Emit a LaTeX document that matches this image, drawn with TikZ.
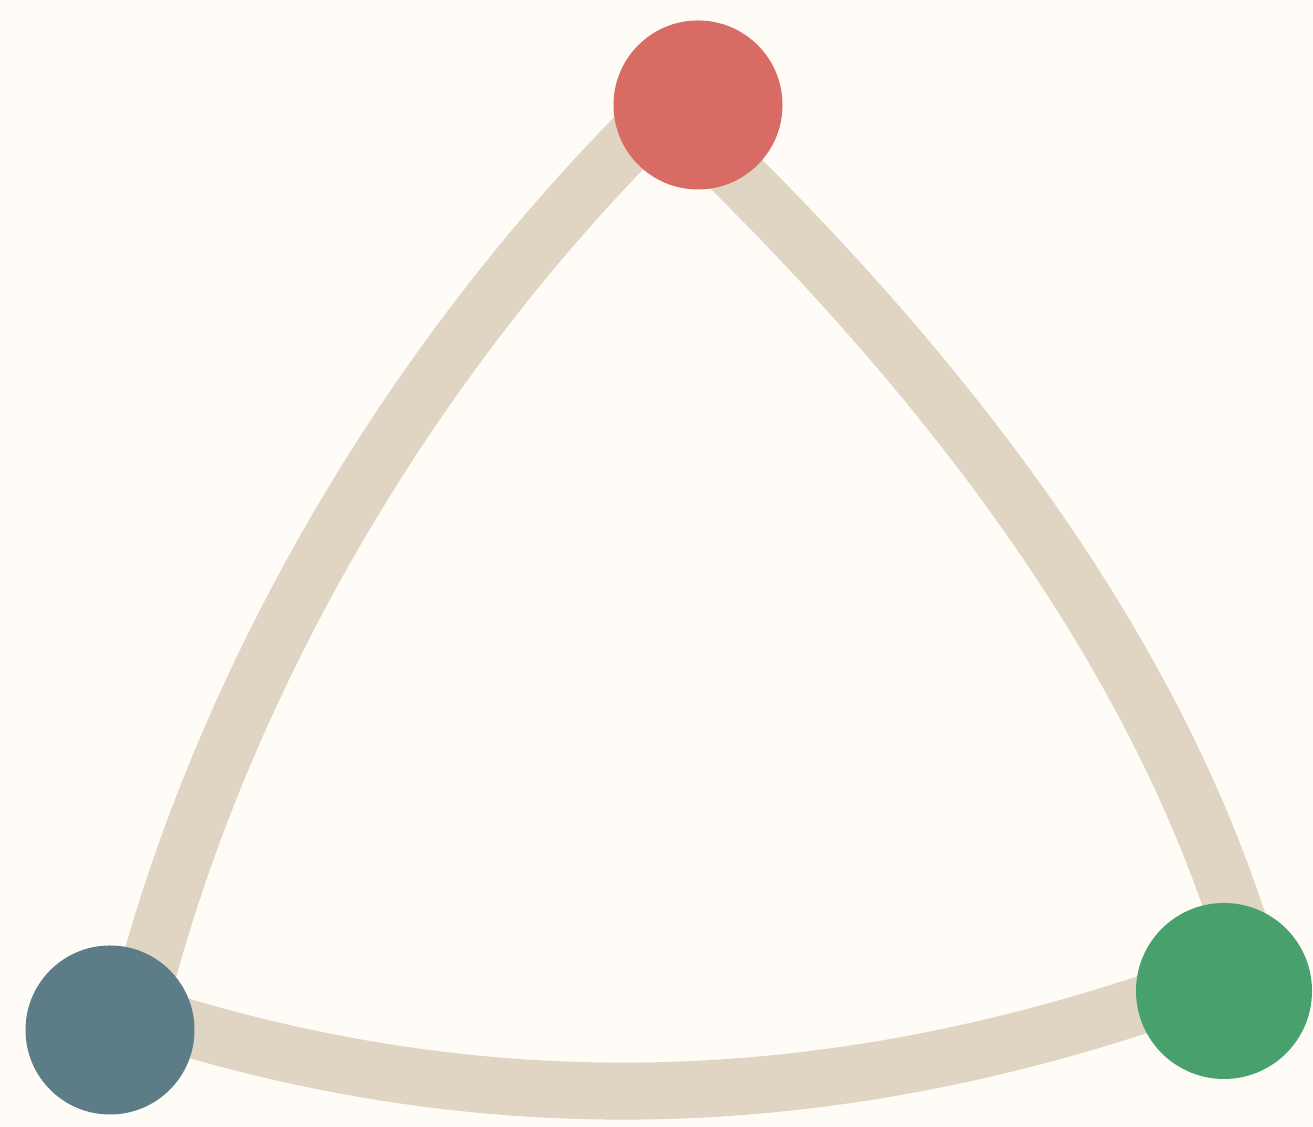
\documentclass[tikz,border=0pt]{standalone}
\usepackage{xcolor}
\definecolor{papercolor}{HTML}{FFFCF7}
\definecolor{linkcolor}{HTML}{E0D5C3}
\definecolor{redblob}{HTML}{D86B63}
\definecolor{blueblob}{HTML}{5C7D88}
\definecolor{greenblob}{HTML}{48A06D}
\usepackage{tikz}
\usetikzlibrary{positioning,calc}
\pgfdeclarelayer{linklayer}
\pgfsetlayers{linklayer,main}
\tikzset{
    blob/.style={
        circle,
        inner sep=0pt,
        outer sep=0pt,
        minimum size=1.69cm,
    },
    link/.style={
        draw=linkcolor,
        line width=0.57cm,
        line join=round,
    },
}

\begin{document}
\begin{tikzpicture}
    \useasboundingbox (0,0) rectangle (13.13,11.27);

    % Vertices
    \node[blob, fill=redblob] (top) at (6.98, 10.22) {};
    \node[blob, fill=blueblob] (left) at (1.10, 0.97) {};
    \node[blob, fill=greenblob, minimum size=1.76cm] (right) at (12.24, 1.36) {};

    % Paper and links (behind the vertices, ends run on straight under them)
    \begin{pgfonlayer}{linklayer}
        \fill[papercolor] (0,0) rectangle (13.13,11.27);
        \draw[link] ($(top.210)+(46:0.45)$) -- (top.210)
            .. controls +(226:3.1) and +(74:3.1) .. (left.60) -- ($(left.60)+(254:0.45)$);
        \draw[link] ($(top.300)+(135:0.45)$) -- (top.300)
            .. controls +(315:2.9) and +(109:2.9) .. (right.85) -- ($(right.85)+(289:0.45)$);
        \draw[link] ($(left.0)+(164:0.45)$) -- (left.0)
            .. controls +(-16:3.3) and +(198:3.3) .. (right.190) -- ($(right.190)+(18:0.45)$);
    \end{pgfonlayer}

\end{tikzpicture}
\end{document}
